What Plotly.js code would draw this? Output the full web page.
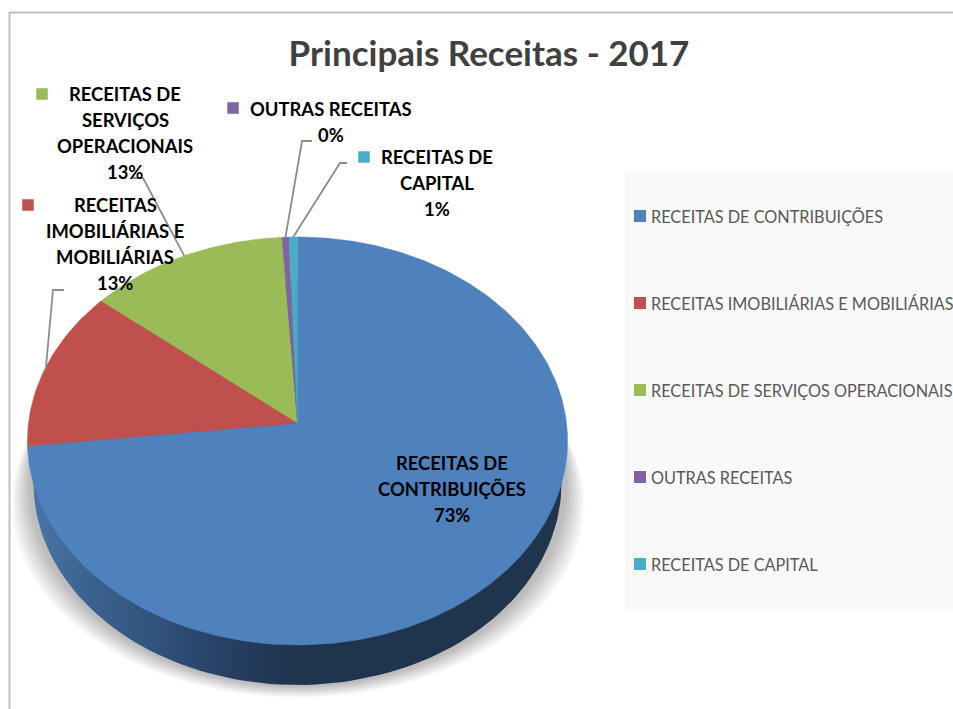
<!DOCTYPE html>
<html>
<head>
<meta charset="utf-8">
<script src="https://cdn.plot.ly/plotly-3.0.1.min.js"></script>
<style>html,body{margin:0;padding:0;background:#fff;overflow:hidden}#chart{width:953px;height:709px}</style>
</head>
<body>
<div id="chart"></div>
<script>
// ---- data ----
const categories = ['RECEITAS DE CONTRIBUIÇÕES','RECEITAS IMOBILIÁRIAS E MOBILIÁRIAS','RECEITAS DE SERVIÇOS OPERACIONAIS','OUTRAS RECEITAS','RECEITAS DE CAPITAL'];
const shares = [73.2, 12.8, 13.0, 0.45, 0.55];
const percentLabels = ['73%','13%','13%','0%','1%'];
const colors = ['#4F81BD','#C0504D','#9BBB59','#8064A2','#4BACC6'];
const labelLines = [
  ['RECEITAS DE','CONTRIBUIÇÕES'],
  ['RECEITAS','IMOBILIÁRIAS E','MOBILIÁRIAS'],
  ['RECEITAS DE','SERVIÇOS','OPERACIONAIS'],
  ['OUTRAS RECEITAS'],
  ['RECEITAS DE','CAPITAL']
];
// ---- layout of the drawing (pixel-like axis units) ----
const W = 953, H = 709;
const labelCenter = [[452,463],[115,205],[125,94],[331,109],[437,157]];
const labelSwatch = [null,[28,205],[42,94],[233,108],[364,157]];
const leaderElbows = [null,[[64,290],[53,290]],[[133,178],[143,178]],[[312,141],[302,141]],[[347,163],[340,163]]];
const legendY = [216,303,390,477,564];
const FONT = 'Lato, Carlito, sans-serif';
const CX = 297.5, APEX = 423, TOP = 237, BOT = 645, KX = 269;
const c = (TOP + BOT - 2*APEX) / (BOT - TOP);
const a = TOP*c + TOP - APEX;
// tilted-disc projection: fraction of the total (clockwise from 12 o'clock) to a rim point
function rim(frac){
  const t = frac*2*Math.PI, u = Math.sin(t), v = Math.cos(t), d = c*v + 1;
  return [CX + KX*u/d, (a*v + APEX)/d];
}
function ellipse(cx,cy,rx,ry){
  const xs=[],ys=[];
  for(let i=0;i<=180;i++){const t=i/180*2*Math.PI;xs.push(cx+rx*Math.cos(t));ys.push(cy+ry*Math.sin(t));}
  return {x:xs,y:ys};
}
const total = shares.reduce((p,q)=>p+q,0);
const traces = [];
// soft drop shadow: stacked translucent ellipses from outer to inner
const N = 22;
for(let i=0;i<N;i++){
  const t=i/(N-1);
  const e=ellipse(298, 505-20*t, 287-18*t, 193+9*t);
  traces.push({type:'scatter',mode:'lines',x:e.x,y:e.y,fill:'toself',line:{width:0},fillcolor:'rgba(0,0,0,0.0115)',hoverinfo:'skip',showlegend:false});
}
// side wall
const side = ellipse(297.5,483,264,202);
traces.push({type:'scatter',mode:'lines',x:side.x,y:side.y,fill:'toself',line:{width:0},
  fillgradient:{type:'horizontal',start:30,stop:565,colorscale:[[0,'#4A76A8'],[0.1,'#3C6491'],[0.25,'#2F507A'],[0.42,'#23395A'],[0.5,'#1F344D'],[1,'#1F344D']]},
  hoverinfo:'skip',showlegend:false});
// top slices
let cum = 0;
const mids = [];
shares.forEach((s,k)=>{
  const from = cum/total, to = (cum+s)/total;
  mids.push((from+to)/2);
  const xs=[CX], ys=[APEX];
  const steps = Math.max(2,Math.ceil((to-from)*360));
  for(let i=0;i<=steps;i++){const p=rim(from+(to-from)*i/steps);xs.push(p[0]);ys.push(p[1]);}
  xs.push(CX);ys.push(APEX);
  traces.push({type:'scatter',mode:'lines',name:categories[k],x:xs,y:ys,fill:'toself',fillcolor:colors[k],line:{width:0.5,color:colors[k]},hoverinfo:'name',showlegend:false});
  cum += s;
});
// leader lines, ending on the rim at each slice's mid angle
leaderElbows.forEach((el,k)=>{
  if(!el) return;
  const p = rim(mids[k]);
  traces.push({type:'scatter',mode:'lines',x:[el[0][0],el[1][0],p[0]],y:[el[0][1],el[1][1],p[1]],line:{color:'#8C8C8C',width:1.8},hoverinfo:'skip',showlegend:false});
});
// label swatches
labelSwatch.forEach((s,k)=>{
  if(!s) return;
  traces.push({type:'scatter',mode:'markers',x:[s[0]],y:[s[1]],marker:{symbol:'square',size:11.5,color:colors[k]},hoverinfo:'skip',showlegend:false});
});
// legend swatches
traces.push({type:'scatter',mode:'markers',x:categories.map(()=>640),y:legendY,marker:{symbol:'square',size:12,color:colors},cliponaxis:false,hoverinfo:'skip',showlegend:false});
// data labels, one annotation per line
const LH = 26;
const annotations = [];
labelLines.forEach((lines,k)=>{
  const all = lines.concat([percentLabels[k]]);
  all.forEach((txt,i)=>{
    annotations.push({x:labelCenter[k][0],y:labelCenter[k][1]+i*LH,xref:'x',yref:'y',text:'<b>'+txt+'</b>',showarrow:false,xanchor:'center',yanchor:'middle',font:{family:FONT,size:18.4,color:'#000'}});
  });
});
// legend texts
categories.forEach((txt,k)=>{
  annotations.push({x:649,y:legendY[k],xref:'x',yref:'y',text:txt,showarrow:false,xanchor:'left',yanchor:'middle',align:'left',font:{family:FONT,size:16.3,color:'#595959'}});
});
const layout = {
  width:W,height:H,
  margin:{l:0,r:0,t:0,b:0,autoexpand:false},
  paper_bgcolor:'#fff',plot_bgcolor:'#fff',showlegend:false,
  title:{text:'<b>Principais Receitas - 2017</b>',x:489/W,xref:'paper',xanchor:'center',y:1-54/H,yref:'paper',yanchor:'middle',font:{family:FONT,size:35,color:'#404040'}},
  xaxis:{range:[0,W],visible:false,fixedrange:true},
  yaxis:{range:[H,0],visible:false,fixedrange:true},
  shapes:[
    {type:'rect',layer:'below',x0:625,x1:W,y0:173,y1:609,xref:'x',yref:'y',fillcolor:'#F9F9F9',line:{width:0}},
    {type:'line',x0:9.5,x1:9.5,y0:12,y1:H,xref:'x',yref:'y',line:{color:'#C0C0C0',width:2}},
    {type:'line',x0:9,x1:W,y0:12.5,y1:12.5,xref:'x',yref:'y',line:{color:'#C0C0C0',width:2}}
  ],
  annotations
};
Plotly.newPlot('chart',traces,layout,{staticPlot:true,displayModeBar:false});
</script>
</body>
</html>
